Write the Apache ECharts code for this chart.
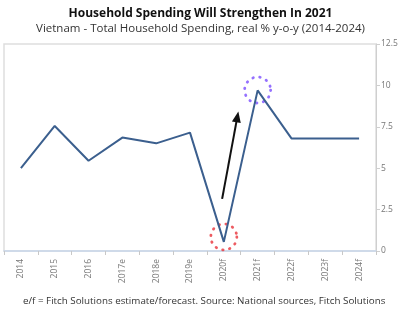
<!DOCTYPE html>
<html>
<head>
<meta charset="utf-8">
<script src="https://cdn.jsdelivr.net/npm/echarts@6/dist/echarts.min.js"></script>
<style>
    html, body { margin: 0; padding: 0; background: #fff; }
    #myChart { width: 401px; height: 310px; }
</style>
</head>
<body>
<div id="myChart"></div>
<script>
    // 年份 / 预测
    var years = ['2014', '2015', '2016', '2017e', '2018e', '2019e', '2020f', '2021f', '2022f', '2023f', '2024f'];
    var spending = [5.0, 7.55, 5.45, 6.85, 6.5, 7.15, 0.55, 9.7, 6.8, 6.8, 6.8];
    var yTicks = [0, 2.5, 5, 7.5, 10, 12.5];
    // 注释：箭头起止点 & 圆圈 (x 为类目序号)
    var arrowFrom = [5.95, 3.15];
    var arrowTo = [6.4, 8.1];
    var circles = [[6, 0.85], [7, 9.72]];
    var circleColors = ['#e8323a', '#7b4dff'];

    var option = {
        animation: false,
        backgroundColor: '#fff',
        title: [{
            text: 'Household Spending Will Strengthen In 2021',
            left: 'center',
            top: 3,
            textStyle: { fontFamily: 'Open Sans', fontSize: 12, fontWeight: 'bold', color: '#111' }
        }, {
            text: 'Vietnam - Total Household Spending, real % y-o-y (2014-2024)',
            left: 'center',
            top: 18,
            textStyle: { fontFamily: 'Open Sans', fontSize: 11.5, fontWeight: 'normal', color: '#333' }
        }, {
            text: 'e/f = Fitch Solutions estimate/forecast. Source: National sources, Fitch Solutions',
            left: 18,
            top: 291,
            textStyle: { fontFamily: 'Open Sans', fontSize: 9.8, fontWeight: 'normal', color: '#333' }
        }],
        grid: {
            show: true,
            left: 4,
            right: 25,
            top: 44,
            bottom: 59,
            borderColor: '#dedede',
            borderWidth: 1.5
        },
        xAxis: [{
            type: 'category',
            data: years,
            boundaryGap: true,
            axisLine: { onZero: false, lineStyle: { color: '#c8d6ea', width: 1.5 } },
            axisTick: { show: true, length: 4, lineStyle: { color: '#c8c8c8' } },
            axisLabel: { rotate: 90, color: '#777', fontSize: 8.5, fontFamily: 'Open Sans', margin: 8 }
        }, {
            type: 'value',
            min: -0.5,
            max: 10.5,
            show: false
        }],
        yAxis: {
            type: 'value',
            position: 'right',
            min: 0,
            max: 12.5,
            interval: 2.5,
            axisLine: { show: true, onZero: false, lineStyle: { color: '#cfcfcf' } },
            axisTick: { show: true, length: 4, lineStyle: { color: '#cfcfcf' } },
            splitLine: { show: false },
            axisLabel: {
                color: '#777', fontSize: 8.5, fontFamily: 'Open Sans', margin: 5,
                formatter: function (v) { return yTicks.indexOf(v) >= 0 ? String(v) : ''; }
            }
        },
        series: [{
            type: 'line',
            data: spending,
            symbol: 'none',
            lineStyle: { color: '#3b5f8e', width: 2 },
            silent: true
        }, {
            type: 'scatter',
            xAxisIndex: 1,
            silent: true,
            symbol: 'circle',
            symbolSize: 26,
            data: circles.map(function (c, i) {
                return {
                    value: c,
                    itemStyle: {
                        color: 'transparent',
                        borderColor: circleColors[i],
                        borderWidth: 2.8,
                        borderType: [0.5, 6.5],
                        borderCap: 'round'
                    }
                };
            }),
            markLine: {
                silent: true,
                symbol: ['none', 'triangle'],
                symbolSize: [9, 11],
                label: { show: false },
                lineStyle: { color: '#111', width: 2, type: 'solid' },
                data: [[{ coord: arrowFrom }, { coord: arrowTo }]]
            }
        }]
    };
    var myChart = echarts.init(document.getElementById('myChart'));
    myChart.setOption(option);
</script>
</body>
</html>
